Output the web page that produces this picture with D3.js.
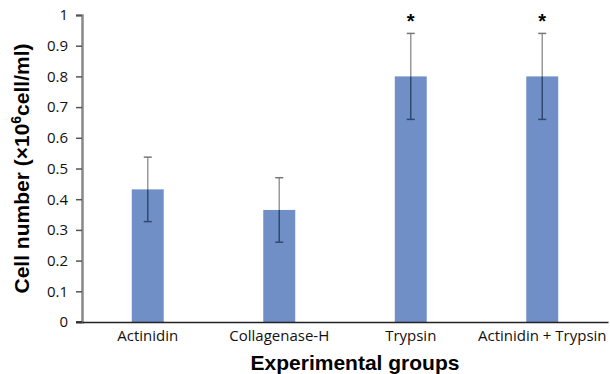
<!DOCTYPE html>
<html><head><meta charset="utf-8">
<script src="https://cdn.jsdelivr.net/npm/d3@7"></script>
<style>body{margin:0;background:#fff}</style>
</head><body>
<script>
const categories = ["Actinidin", "Collagenase-H", "Trypsin", "Actinidin + Trypsin"];
const values = [0.432, 0.365, 0.80, 0.80];
const errors = [0.105, 0.105, 0.14, 0.14];
const significant = [false, false, true, true];
const yTicks = [0, 0.1, 0.2, 0.3, 0.4, 0.5, 0.6, 0.7, 0.8, 0.9, 1];
const yTickLabels = ["0", "0.1", "0.2", "0.3", "0.4", "0.5", "0.6", "0.7", "0.8", "0.9", "1"];

const W = 610, H = 374;
const m = {left: 82, right: 2, top: 15, bottom: 52};
const svg = d3.select("body").append("svg").attr("width", W).attr("height", H);

const x = d3.scaleBand().domain(categories).range([m.left, W - m.right]).paddingInner(0.757).paddingOuter(0.3785);
const y = d3.scaleLinear().domain([0, 1]).range([H - m.bottom, m.top]);

// bars
svg.selectAll("rect.bar").data(categories).enter().append("rect")
  .attr("x", d => x(d)).attr("width", x.bandwidth())
  .attr("y", (d, i) => y(values[i])).attr("height", (d, i) => y(0) - y(values[i]))
  .attr("fill", "#6f8fc6");

// error bars
const eg = svg.append("g");
categories.forEach((c, i) => {
  const cx = x(c) + x.bandwidth() / 2;
  eg.append("line").attr("x1", cx).attr("x2", cx).attr("y1", y(values[i] + errors[i])).attr("y2", y(values[i])).attr("stroke", "#999").attr("stroke-width", 1.5);
  eg.append("line").attr("x1", cx).attr("x2", cx).attr("y1", y(values[i])).attr("y2", y(values[i] - errors[i])).attr("stroke", "#2f4a70").attr("stroke-width", 1.5);
  eg.append("line").attr("x1", cx - 4).attr("x2", cx + 4).attr("y1", y(values[i] + errors[i])).attr("y2", y(values[i] + errors[i])).attr("stroke", "#777").attr("stroke-width", 1.5);
  eg.append("line").attr("x1", cx - 4).attr("x2", cx + 4).attr("y1", y(values[i] - errors[i])).attr("y2", y(values[i] - errors[i])).attr("stroke", "#2f4a70").attr("stroke-width", 1.5);
  if (significant[i]) {
    svg.append("text").attr("x", cx).attr("y", y(values[i] + errors[i]) - 5).attr("text-anchor", "middle")
      .attr("font-family", "Liberation Sans, Arial, sans-serif").attr("font-size", 20).attr("font-weight", "bold").text("*");
  }
});

// y axis
const yAxis = d3.axisLeft(y).tickValues(yTicks).tickFormat((d, i) => yTickLabels[i]).tickSize(6).tickPadding(8);
const ga = svg.append("g").attr("transform", `translate(${m.left},0)`).call(yAxis);
ga.select(".domain").attr("stroke", "#888").attr("stroke-width", 2.5);
ga.selectAll(".tick line").attr("stroke", "#555").attr("stroke-width", 1.5);
ga.selectAll(".tick text").attr("font-family", "Open Sans, Liberation Sans, sans-serif").attr("font-size", 15).attr("fill", "#111");

// x axis
const xAxis = d3.axisBottom(x).tickSize(0).tickPadding(8);
const gx = svg.append("g").attr("transform", `translate(0,${y(0)})`).call(xAxis);
gx.select(".domain").attr("stroke", "#222").attr("stroke-width", 1.5);
gx.selectAll(".tick text").attr("font-family", "Open Sans, Liberation Sans, sans-serif").attr("font-size", 15).attr("fill", "#111");
svg.append("line").attr("x1", 76).attr("x2", m.left).attr("y1", y(0)).attr("y2", y(0)).attr("stroke", "#222").attr("stroke-width", 1.5);

// titles
svg.append("text").attr("x", 355).attr("y", 370).attr("text-anchor", "middle")
  .attr("font-family", "Liberation Sans, Arial, sans-serif").attr("font-weight", "bold").attr("font-size", 21).text("Experimental groups");
const yt = svg.append("text").attr("transform", "translate(29,168.5) rotate(-90)").attr("text-anchor", "middle")
  .attr("font-family", "Liberation Sans, Arial, sans-serif").attr("font-weight", "bold").attr("font-size", 21);
yt.append("tspan").text("Cell number (×10");
yt.append("tspan").attr("font-size", 14).attr("dy", -8).text("6");
yt.append("tspan").attr("dy", 8).text("cell/ml)");
</script>
</body></html>
